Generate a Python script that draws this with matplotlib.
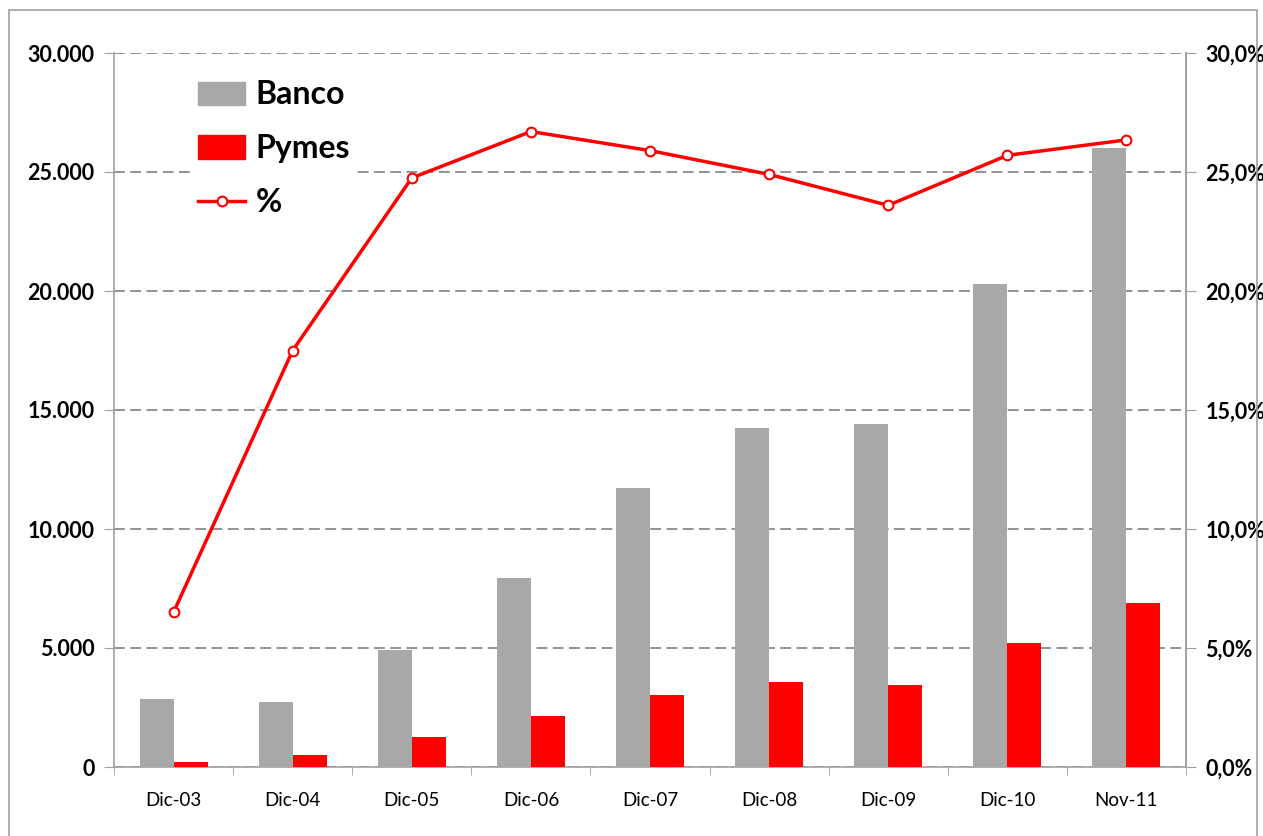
import numpy as np
import matplotlib
matplotlib.use("Agg")
import matplotlib.pyplot as plt
from matplotlib.patches import Rectangle, Patch
from matplotlib.lines import Line2D

categorias = ["Dic-03", "Dic-04", "Dic-05", "Dic-06", "Dic-07", "Dic-08", "Dic-09", "Dic-10", "Nov-11"]
banco = [2850, 2730, 4900, 7950, 11720, 14250, 14420, 20300, 26000]
pymes = [210, 500, 1250, 2150, 3020, 3570, 3440, 5200, 6880]
porcentaje = [6.5, 17.5, 24.75, 26.7, 25.9, 24.9, 23.6, 25.7, 26.35]
ticks_izq = ["0", "5.000", "10.000", "15.000", "20.000", "25.000", "30.000"]
ticks_der = ["0,0%", "5,0%", "10,0%", "15,0%", "20,0%", "25,0%", "30,0%"]

plt.rcParams['font.family'] = ['Lato', 'DejaVu Sans']

W, H = 1263, 836
fig = plt.figure(figsize=(W / 100, H / 100), dpi=100)
fig.patches.append(Rectangle((9 / W, -0.1), (1257 - 9) / W, 1.1 - 10 / H,
                             transform=fig.transFigure, fill=False,
                             edgecolor='#a0a0a0', linewidth=1.2))

ax = fig.add_axes([114 / W, (H - 767) / H, (1186 - 114) / W, (767 - 53) / H])
x = np.arange(len(categorias))
w = 0.285
gris = '#a8a8a8'
rojo = '#ff0000'
ax.bar(x - w / 2, banco, w, color=gris, zorder=3)
ax.bar(x + w / 2, pymes, w, color=rojo, zorder=3)

ax.set_xlim(-0.5, len(categorias) - 0.5)
ax.set_ylim(0, 30000)
ax.set_yticks(np.arange(0, 30001, 5000))
ax.set_yticklabels(ticks_izq, fontsize=15.5, fontweight='bold')
ax.yaxis.grid(True, color='#8a8a8a', linestyle=(0, (6, 3)), linewidth=1.3, zorder=0)
ax.set_axisbelow(True)

ax.set_xticks(x)
ax.set_xticklabels(categorias, fontsize=13.5)
ax.tick_params(axis='x', which='major', length=0, pad=18)
ax.set_xticks(np.arange(-0.5, len(categorias), 1), minor=True)
ax.tick_params(axis='x', which='minor', length=6, color='#a0a0a0', direction='out')
ax.tick_params(axis='y', length=7, color='#a0a0a0', direction='out', pad=7)

for s in ['top']:
    ax.spines[s].set_visible(False)
for s in ['left', 'right', 'bottom']:
    ax.spines[s].set_color('#a0a0a0')
    ax.spines[s].set_linewidth(1.2)

ax2 = ax.twinx()
ax2.plot(x, porcentaje, color=rojo, linewidth=2.5, marker='o', markersize=7,
         markerfacecolor='white', markeredgecolor=rojo, markeredgewidth=1.5, zorder=5)
ax2.set_ylim(0, 30)
ax2.set_yticks(np.arange(0, 31, 5))
ax2.set_yticklabels(ticks_der, fontsize=15.5, fontweight='bold')
ax2.tick_params(axis='y', length=7, color='#a0a0a0', direction='out', pad=7)
for s in ['top', 'left', 'bottom']:
    ax2.spines[s].set_visible(False)
ax2.spines['right'].set_color('#a0a0a0')
ax2.spines['right'].set_linewidth(1.2)

handles = [Patch(color=gris), Patch(color=rojo),
           Line2D([], [], color=rojo, linewidth=2.5, marker='o', markersize=7,
                  markerfacecolor='white', markeredgecolor=rojo, markeredgewidth=1.5)]
leg = ax2.legend(handles, ["Banco", "Pymes", "%"], loc='upper left',
                 bbox_to_anchor=(176 / W, (H - 58) / H), bbox_transform=fig.transFigure,
                 prop={'size': 23, 'weight': 'bold'}, frameon=True, facecolor='white',
                 edgecolor='none', framealpha=1, fancybox=False,
                 handlelength=1.45, handleheight=0.75, labelspacing=0.78, handletextpad=0.35,
                 borderpad=0.2)
leg.set_zorder(10)

fig.savefig("out.png", dpi=100)
